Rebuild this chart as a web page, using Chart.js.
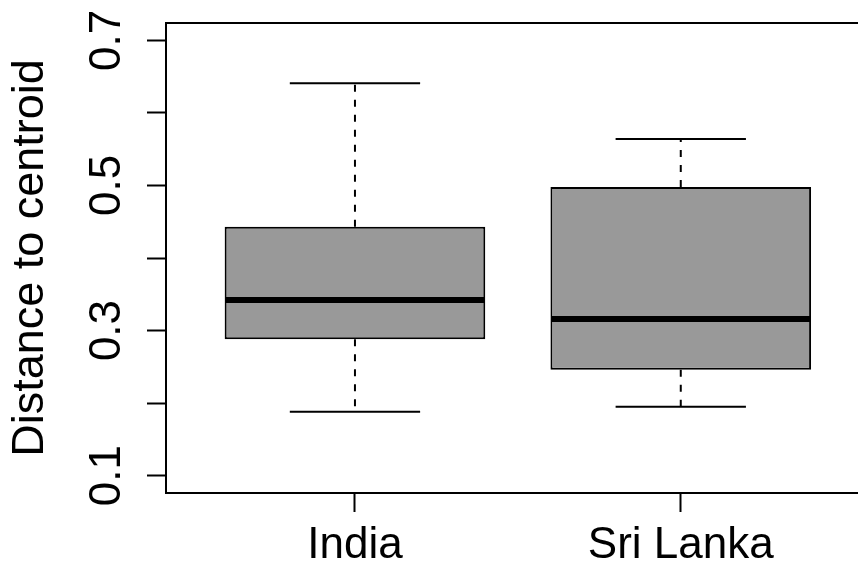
<!DOCTYPE html>
<html lang="en">
<head>
<meta charset="UTF-8">
<title>Distance to centroid</title>
<script src="https://cdn.jsdelivr.net/npm/chart.js"></script>
<style>
  html, body { margin: 0; padding: 0; background: #fff; overflow: hidden; }
  canvas { display: block; }
</style>
</head>
<body>
<canvas id="boxChart" width="858" height="572"></canvas>
<script>
// box statistics
const categories = ['India', 'Sri Lanka'];
const whiskerLow = [0.188, 0.195];
const lowerQuartile = [0.288, 0.246];
const medians = [0.342, 0.316];
const upperQuartile = [0.443, 0.498];
const whiskerHigh = [0.641, 0.564];

// y axis ticks (R drops every other label)
const yTicks = [0.1, 0.2, 0.3, 0.4, 0.5, 0.6, 0.7];
const yTickLabels = ['0.1', '', '0.3', '', '0.5', '', '0.7'];

const FONT = "'Liberation Sans', Arial, Helvetica, sans-serif";

// whiskers, caps and median lines on top of the boxes
const boxWhiskers = {
  id: 'boxWhiskers',
  afterDatasetsDraw(chart) {
    const ctx = chart.ctx;
    const y = chart.scales.y;
    const meta = chart.getDatasetMeta(0);
    ctx.save();
    ctx.strokeStyle = '#000';
    ctx.lineCap = 'butt';
    meta.data.forEach((bar, i) => {
      const { x, width } = bar.getProps(['x', 'width'], true);
      const half = width / 2;
      const cap = width / 4;
      const yLow = y.getPixelForValue(whiskerLow[i]);
      const yQ1 = y.getPixelForValue(lowerQuartile[i]);
      const yMed = y.getPixelForValue(medians[i]);
      const yQ3 = y.getPixelForValue(upperQuartile[i]);
      const yHigh = y.getPixelForValue(whiskerHigh[i]);

      ctx.lineWidth = 2;
      ctx.setLineDash([7, 8]);
      ctx.beginPath();
      ctx.moveTo(x, yQ3);
      ctx.lineTo(x, yHigh);
      ctx.moveTo(x, yQ1);
      ctx.lineTo(x, yLow);
      ctx.stroke();
      ctx.setLineDash([]);

      ctx.beginPath();
      ctx.moveTo(x - cap, yHigh);
      ctx.lineTo(x + cap, yHigh);
      ctx.moveTo(x - cap, yLow);
      ctx.lineTo(x + cap, yLow);
      ctx.stroke();

      ctx.lineWidth = 6;
      ctx.beginPath();
      ctx.moveTo(x - half + 1, yMed);
      ctx.lineTo(x + half - 1, yMed);
      ctx.stroke();
    });
    // top edge of the frame
    const a = chart.chartArea;
    ctx.lineWidth = 2;
    ctx.beginPath();
    ctx.moveTo(a.left - 1, a.top);
    ctx.lineTo(a.right, a.top);
    ctx.stroke();
    ctx.restore();
  }
};

const axisGrid = {
  drawOnChartArea: false,
  offset: false,
  tickLength: 19,
  tickWidth: 2,
  tickColor: '#000'
};

new Chart(document.getElementById('boxChart'), {
  type: 'bar',
  data: {
    datasets: [{
      data: categories.map((c, i) => ({ x: i + 1, y: [lowerQuartile[i], upperQuartile[i]] })),
      backgroundColor: '#999999',
      borderColor: '#000',
      borderWidth: 2,
      borderSkipped: false,
      barPercentage: 1,
      categoryPercentage: 0.8
    }]
  },
  options: {
    responsive: false,
    devicePixelRatio: 1,
    animation: false,
    layout: { padding: { top: 23, left: 0, right: 0, bottom: 0 } },
    plugins: {
      legend: { display: false },
      tooltip: { enabled: false }
    },
    scales: {
      x: {
        type: 'linear',
        offset: false,
        min: 0.42,
        max: 2.544,
        afterBuildTicks: s => { s.ticks = categories.map((c, i) => ({ value: i + 1 })); },
        afterFit: s => { s.height = 79; s.paddingLeft = 0; s.paddingRight = 0; },
        grid: axisGrid,
        border: { display: true, color: '#000', width: 2 },
        ticks: {
          padding: 7,
          maxRotation: 0,
          autoSkip: false,
          color: '#000',
          font: { family: FONT, size: 44 },
          callback: (v, i) => categories[i]
        }
      },
      y: {
        min: 0.076,
        max: 0.724,
        afterBuildTicks: s => { s.ticks = yTicks.map(v => ({ value: v })); },
        afterFit: s => { s.width = 166; s.paddingTop = 0; s.paddingBottom = 0; },
        grid: axisGrid,
        border: { display: true, color: '#000', width: 2 },
        ticks: {
          minRotation: 90,
          maxRotation: 90,
          crossAlign: 'center',
          padding: 9,
          autoSkip: false,
          color: '#000',
          font: { family: FONT, size: 44 },
          callback: (v, i) => yTickLabels[i]
        },
        title: {
          display: true,
          text: 'Distance to centroid',
          color: '#000',
          font: { family: FONT, size: 45 },
          padding: { top: 4, bottom: 0 }
        }
      }
    }
  },
  plugins: [boxWhiskers]
});
</script>
</body>
</html>
